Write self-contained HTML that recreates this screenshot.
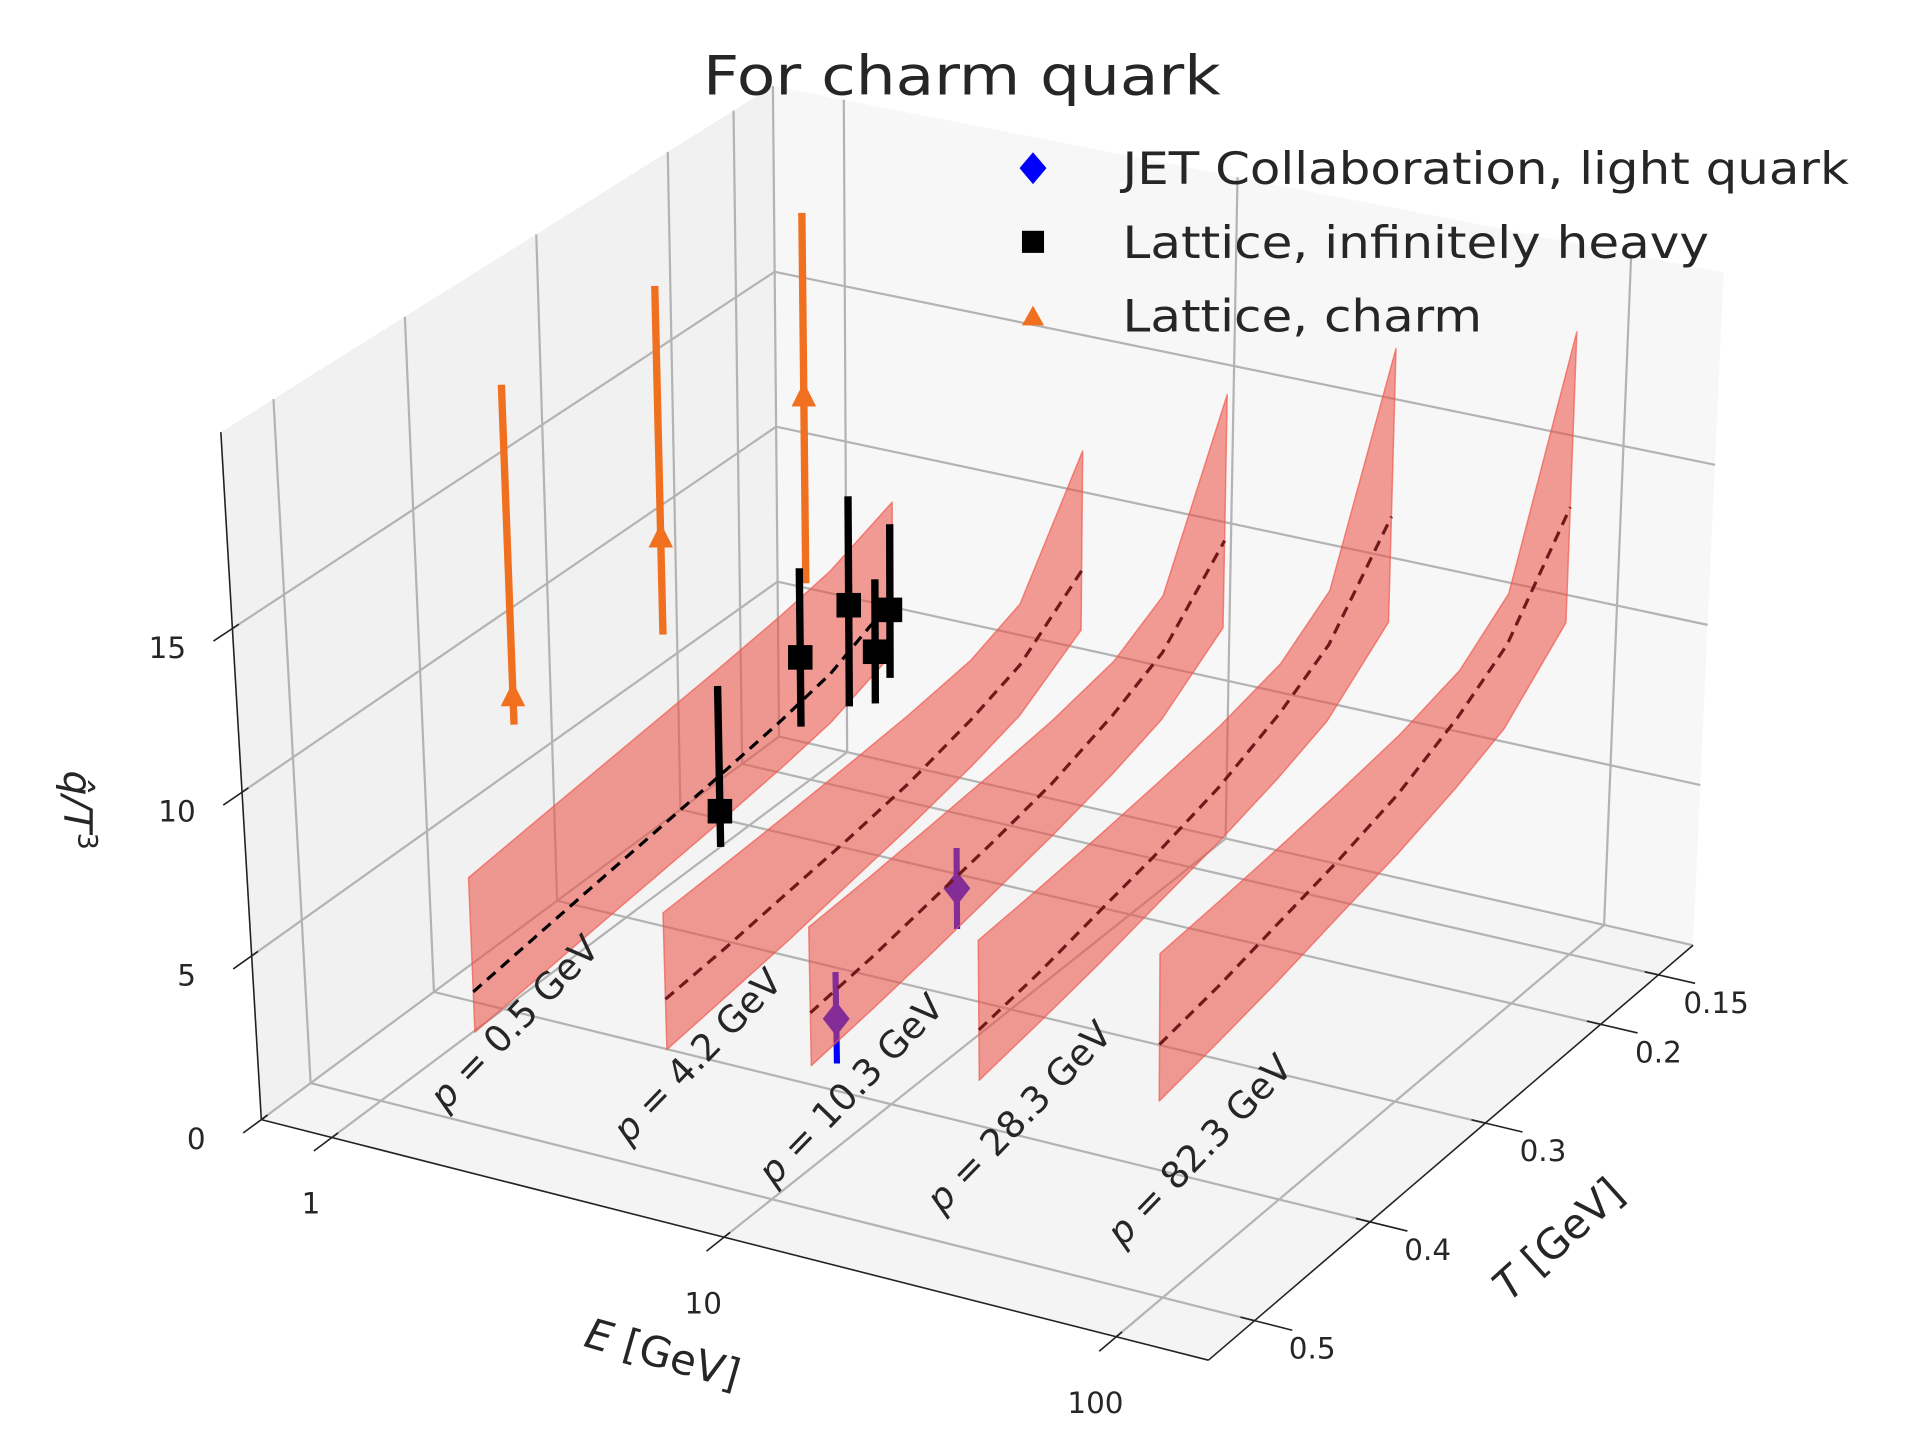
<!DOCTYPE html>
<html><head><meta charset="utf-8"><title>For charm quark</title>
<style>
html,body{margin:0;padding:0;background:#fff;}
svg{display:block;}
text{font-family:"DejaVu Sans","Liberation Sans",sans-serif;fill:#262626;}
</style></head>
<body>
<svg id="chart" xmlns="http://www.w3.org/2000/svg" width="1920" height="1440" viewBox="0 0 1565 1173" preserveAspectRatio="none">
<rect x="0" y="0" width="1565" height="1173" fill="#ffffff"/>
<g id="panes"></g>
<g id="grid"></g>
<g id="axes"></g>
<g id="data" transform="translate(5,5)"></g>
<g id="labels"></g>
<text x="784" y="77" font-size="44" text-anchor="middle" textLength="422" lengthAdjust="spacingAndGlyphs">For charm quark</text>
<g id="legend">
  <polygon points="842,124 853,137 842,150 831,137" fill="#0000ff"/>
  <text x="915" y="150" font-size="36" textLength="592" lengthAdjust="spacingAndGlyphs">JET Collaboration, light quark</text>
  <rect x="833" y="188" width="18" height="18" fill="#000"/>
  <text x="915" y="210" font-size="36" textLength="478" lengthAdjust="spacingAndGlyphs">Lattice, infinitely heavy</text>
  <polygon points="842,249 851,265 833,265" fill="#f07020"/>
  <text x="915" y="270" font-size="36" textLength="293" lengthAdjust="spacingAndGlyphs">Lattice, charm</text>
</g>
</svg>
<script>
// ---- data ----
const bandLabels = ['0.5', '4.2', '10.3', '28.3', '82.3'];
const bandE = [1.18, 3.68, 8.63, 23.2, 66.7];
const bandT = [0.45, 0.40, 0.35, 0.30, 0.25, 0.20, 0.16, 0.11];
const bandCenter = [
  [2.34, 2.61, 2.88, 3.14, 3.41, 3.73, 4.08, 5.02],
  [3.53, 3.72, 3.98, 4.24, 4.57, 5.10, 5.69, 7.26],
  [4.16, 4.41, 4.76, 5.12, 5.57, 6.28, 7.08, 9.20],
  [4.84, 5.15, 5.59, 6.03, 6.59, 7.46, 8.46, 11.08],
  [5.65, 6.00, 6.48, 6.96, 7.58, 8.55, 9.65, 12.55]
];
const bandHigh = [
  [5.84, 6.07, 6.30, 6.53, 6.76, 7.04, 7.34, 8.15],
  [6.14, 6.24, 6.36, 6.51, 6.69, 6.98, 7.63, 11.10],
  [6.73, 6.87, 7.05, 7.26, 7.51, 7.94, 8.87, 13.85],
  [7.49, 7.67, 7.89, 8.16, 8.47, 9.00, 10.16, 16.40],
  [8.31, 8.51, 8.75, 9.04, 9.38, 9.97, 11.24, 18.07]
];
const bandLow = [
  [1.10, 1.32, 1.54, 1.75, 1.97, 2.23, 2.52, 3.28],
  [2.01, 2.25, 2.51, 2.85, 3.19, 3.62, 4.09, 5.37],
  [2.58, 2.85, 3.16, 3.54, 3.93, 4.43, 4.97, 6.43],
  [3.35, 3.66, 4.01, 4.45, 4.89, 5.46, 6.07, 7.74],
  [4.00, 4.34, 4.74, 5.23, 5.72, 6.36, 7.05, 8.92]
];
const heavyE = [1.18, 1.18, 1.18, 1.18, 1.18];
const heavyT = [0.25, 0.184, 0.145, 0.124, 0.112];
const heavyQ = [2.30, 5.29, 5.84, 3.74, 4.74];
const heavyLo = [1.17, 3.08, 2.60, 2.08, 2.55];
const heavyHi = [6.25, 8.13, 9.33, 6.07, 7.50];
const charmE = [1.18, 1.18, 1.18];
const charmT = [0.41, 0.292, 0.179];
const charmQ = [10.33, 12.08, 13.46];
const charmLo = [9.46, 9.04, 7.51];
const charmHi = [19.95, 19.98, 19.32];
const jetE = [11.6, 11.6];
const jetT = [0.47, 0.37];
const jetQ = [4.89, 6.05];
const jetLo = [3.56, 4.82];
const jetHi = [6.28, 7.27];
const eTicks = [1, 10, 100];
const eTickLabels = ['1', '10', '100'];
const tTicks = [0.15, 0.2, 0.3, 0.4, 0.5];
const tTickLabels = ['0.15', '0.2', '0.3', '0.4', '0.5'];
const zTicks = [0, 5, 10, 15];
const zTickLabels = ['0', '5', '10', '15'];
// annotation anchor points for the momentum labels (screen placement)
const pLabelX = [426.6, 575.8, 700.8, 838.0, 985.0];
const pLabelY = [842.0, 869.0, 896.5, 918.7, 945.9];

// ---- projection ----
const Emin = -0.18, Emax = 2.235, Tf = 0.54, Tb = 0.12, Zmax = 21;
const C = {
  p000:[213,912], p100:[985,1108], p010:[635,600], p110:[1380,770],
  p001:[180,352], p101:[990,505], p011:[630,70], p111:[1405,222]
};
function lerp(a,b,t){return [a[0]+(b[0]-a[0])*t, a[1]+(b[1]-a[1])*t];}
function projUVW(u,v,w){
  const b0 = lerp(lerp(C.p000,C.p100,u), lerp(C.p010,C.p110,u), v);
  const b1 = lerp(lerp(C.p001,C.p101,u), lerp(C.p011,C.p111,u), v);
  return lerp(b0,b1,w);
}
function uOf(E){return (Math.log10(E)-Emin)/(Emax-Emin);}
function vOf(T){return (Tf-T)/(Tf-Tb);}
function wOf(z){return z/Zmax;}
function proj(E,T,z){return projUVW(uOf(E),vOf(T),wOf(z));}
const NS='http://www.w3.org/2000/svg';
function mk(parent, tag, attrs){
  const el=document.createElementNS(NS,tag);
  for(const k in attrs) el.setAttribute(k, attrs[k]);
  parent.appendChild(el);
  return el;
}
function pts(arr){return arr.map(p=>p[0].toFixed(1)+','+p[1].toFixed(1)).join(' ');}
function line(parent,a,b,stroke,sw){
  return mk(parent,'line',{x1:a[0].toFixed(1),y1:a[1].toFixed(1),x2:b[0].toFixed(1),y2:b[1].toFixed(1),stroke:stroke,'stroke-width':sw});
}
const gP=document.getElementById('panes'), gG=document.getElementById('grid'),
      gA=document.getElementById('axes'), gD=document.getElementById('data'),
      gL=document.getElementById('labels');

let el;
el = mk(gP,'polygon',{points:pts([projUVW(0,0,0),projUVW(1,0,0),projUVW(1,1,0),projUVW(0,1,0)]),fill:'#f4f4f4'});


el = mk(gP,'polygon',{points:pts([projUVW(0,0,0),projUVW(0,1,0),projUVW(0,1,1),projUVW(0,0,1)]),fill:'#f1f1f1'});


el = mk(gP,'polygon',{points:pts([projUVW(0,1,0),projUVW(1,1,0),projUVW(1,1,1),projUVW(0,1,1)]),fill:'#f7f7f7'});



const GC='#b3b3b3', GW=1.8;
eTicks.forEach(function(E){
  const u=uOf(E);
  el = line(gG,projUVW(u,0,0),projUVW(u,1,0),GC,GW);
  
  
  el = line(gG,projUVW(u,1,0),projUVW(u,1,1),GC,GW);
  
  
});
tTicks.forEach(function(T){
  const v=vOf(T);
  el = line(gG,projUVW(0,v,0),projUVW(1,v,0),GC,GW);
  
  
  el = line(gG,projUVW(0,v,0),projUVW(0,v,1),GC,GW);
  
  
});
zTicks.forEach(function(z){
  const w=wOf(z);
  el = line(gG,projUVW(0,0,w),projUVW(0,1,w),GC,GW);
  
  
  el = line(gG,projUVW(0,1,w),projUVW(1,1,w),GC,GW);
  
  
});
el = line(gG,projUVW(0,1,0),projUVW(0,1,1),GC,GW);



el = line(gA,projUVW(0,0,0),projUVW(1,0,0),'#222',1.3);


el = line(gA,projUVW(1,0,0),projUVW(1,1,0),'#222',1.3);


el = line(gA,projUVW(0,0,0),projUVW(0,0,1),'#222',1.3);



eTicks.forEach(function(E,i){
  const u=uOf(E);
  const a=projUVW(u,0.012,0), b=projUVW(u,-0.035,0);
  el = line(gA,a,b,'#222',1.3);
  
  
  const p=projUVW(u,0,0);
  el = mk(gL,'text',{x:(p[0]-17).toFixed(1),y:(p[1]+62).toFixed(1),'font-size':24,'text-anchor':'middle'});
  el.textContent=eTickLabels[i];
  
  
});
tTicks.forEach(function(T,i){
  const v=vOf(T);
  const a=projUVW(0.985,v,0), b=projUVW(1.04,v,0);
  el = line(gA,a,b,'#222',1.3);
  
  
  const p=projUVW(1,v,0);
  el = mk(gL,'text',{x:(p[0]+47).toFixed(1),y:(p[1]+31).toFixed(1),'font-size':24,'text-anchor':'middle'});
  el.textContent=tTickLabels[i];
  
  
});
zTicks.forEach(function(z,i){
  const w=wOf(z);
  const a=projUVW(0,0.012,w), b=projUVW(0,-0.035,w);
  el = line(gA,a,b,'#222',1.3);
  
  
  const p=projUVW(0,0,w);
  el = mk(gL,'text',{x:(p[0]-53).toFixed(1),y:(p[1]+24).toFixed(1),'font-size':24,'text-anchor':'middle'});
  el.textContent=zTickLabels[i];
  
  
});

// JET points (drawn first, bands overlay them)
jetE.forEach(function(E,i){
  const lo=proj(E,jetT[i],jetLo[i]), hi=proj(E,jetT[i],jetHi[i]), c=proj(E,jetT[i],jetQ[i]);
  el = line(gD,lo,hi,'#0000ff',5);
  
  
  el = mk(gD,'polygon',{points:pts([[c[0],c[1]-14],[c[0]+11,c[1]],[c[0],c[1]+14],[c[0]-11,c[1]]]),fill:'#0000ff'});
  
  
});

bandE.forEach(function(E,bi){
  const up=bandT.map((T,j)=>proj(E,T,bandHigh[bi][j]));
  const dn=bandT.map((T,j)=>proj(E,T,bandLow[bi][j])).reverse();
  el = mk(gD,'polygon',{points:pts(up.concat(dn)),fill:'rgb(235,80,70)','fill-opacity':0.56,stroke:'rgb(240,90,80)','stroke-opacity':0.7,'stroke-width':1.2,'stroke-linejoin':'round'});
  
  
  const cl=bandT.map((T,j)=>proj(E,T,bandCenter[bi][j]));
  el = mk(gD,'polyline',{points:pts(cl),fill:'none',stroke:bi===0?'#000000':'#6e1a1a','stroke-width':2.6,'stroke-dasharray':'9,6'});
  
  
  el = mk(gL,'text',{x:0,y:0,'font-size':30,'text-anchor':'middle',transform:'translate('+pLabelX[bi]+','+(pLabelY[bi]-2)+') rotate(-46)'});
  
  
  const ts1=mk(el,'tspan',{'font-style':'italic'}); ts1.textContent='p';
  const ts2=mk(el,'tspan',{}); ts2.textContent=' = '+bandLabels[bi]+' GeV';
});

charmE.forEach(function(E,i){
  const lo=proj(E,charmT[i],charmLo[i]), hi=proj(E,charmT[i],charmHi[i]), c=proj(E,charmT[i],charmQ[i]);
  el = line(gD,lo,hi,'#f07020',6);
  
  
  el = mk(gD,'polygon',{points:pts([[c[0],c[1]-12],[c[0]+10,c[1]+8],[c[0]-10,c[1]+8]]),fill:'#f07020'});
  
  
});
heavyE.forEach(function(E,i){
  const lo=proj(E,heavyT[i],heavyLo[i]), hi=proj(E,heavyT[i],heavyHi[i]), c=proj(E,heavyT[i],heavyQ[i]);
  el = line(gD,lo,hi,'#000000',6);
  
  
  el = mk(gD,'rect',{x:(c[0]-10).toFixed(1),y:(c[1]-10).toFixed(1),width:20,height:20,fill:'#000000'});
  
  
});

el = mk(gL,'text',{x:0,y:0,'font-size':34,'text-anchor':'middle',transform:'translate(537,1114) rotate(16)'});


let t1=mk(el,'tspan',{'font-style':'italic'}); t1.textContent='E';
let t2=mk(el,'tspan',{}); t2.textContent=' [GeV]';
el = mk(gL,'text',{x:0,y:0,'font-size':34,'text-anchor':'middle',transform:'translate(1278,1018) rotate(-42)'});


t1=mk(el,'tspan',{'font-style':'italic'}); t1.textContent='T';
t2=mk(el,'tspan',{}); t2.textContent=' [GeV]';
el = mk(gL,'text',{x:0,y:0,'font-size':32,'text-anchor':'middle',transform:'translate(52,660) rotate(90)'});


t1=mk(el,'tspan',{'font-style':'italic'}); t1.textContent='q\u0302/T';
t2=mk(el,'tspan',{'font-size':22,dy:-12}); t2.textContent='3';
</script>
</body></html>
